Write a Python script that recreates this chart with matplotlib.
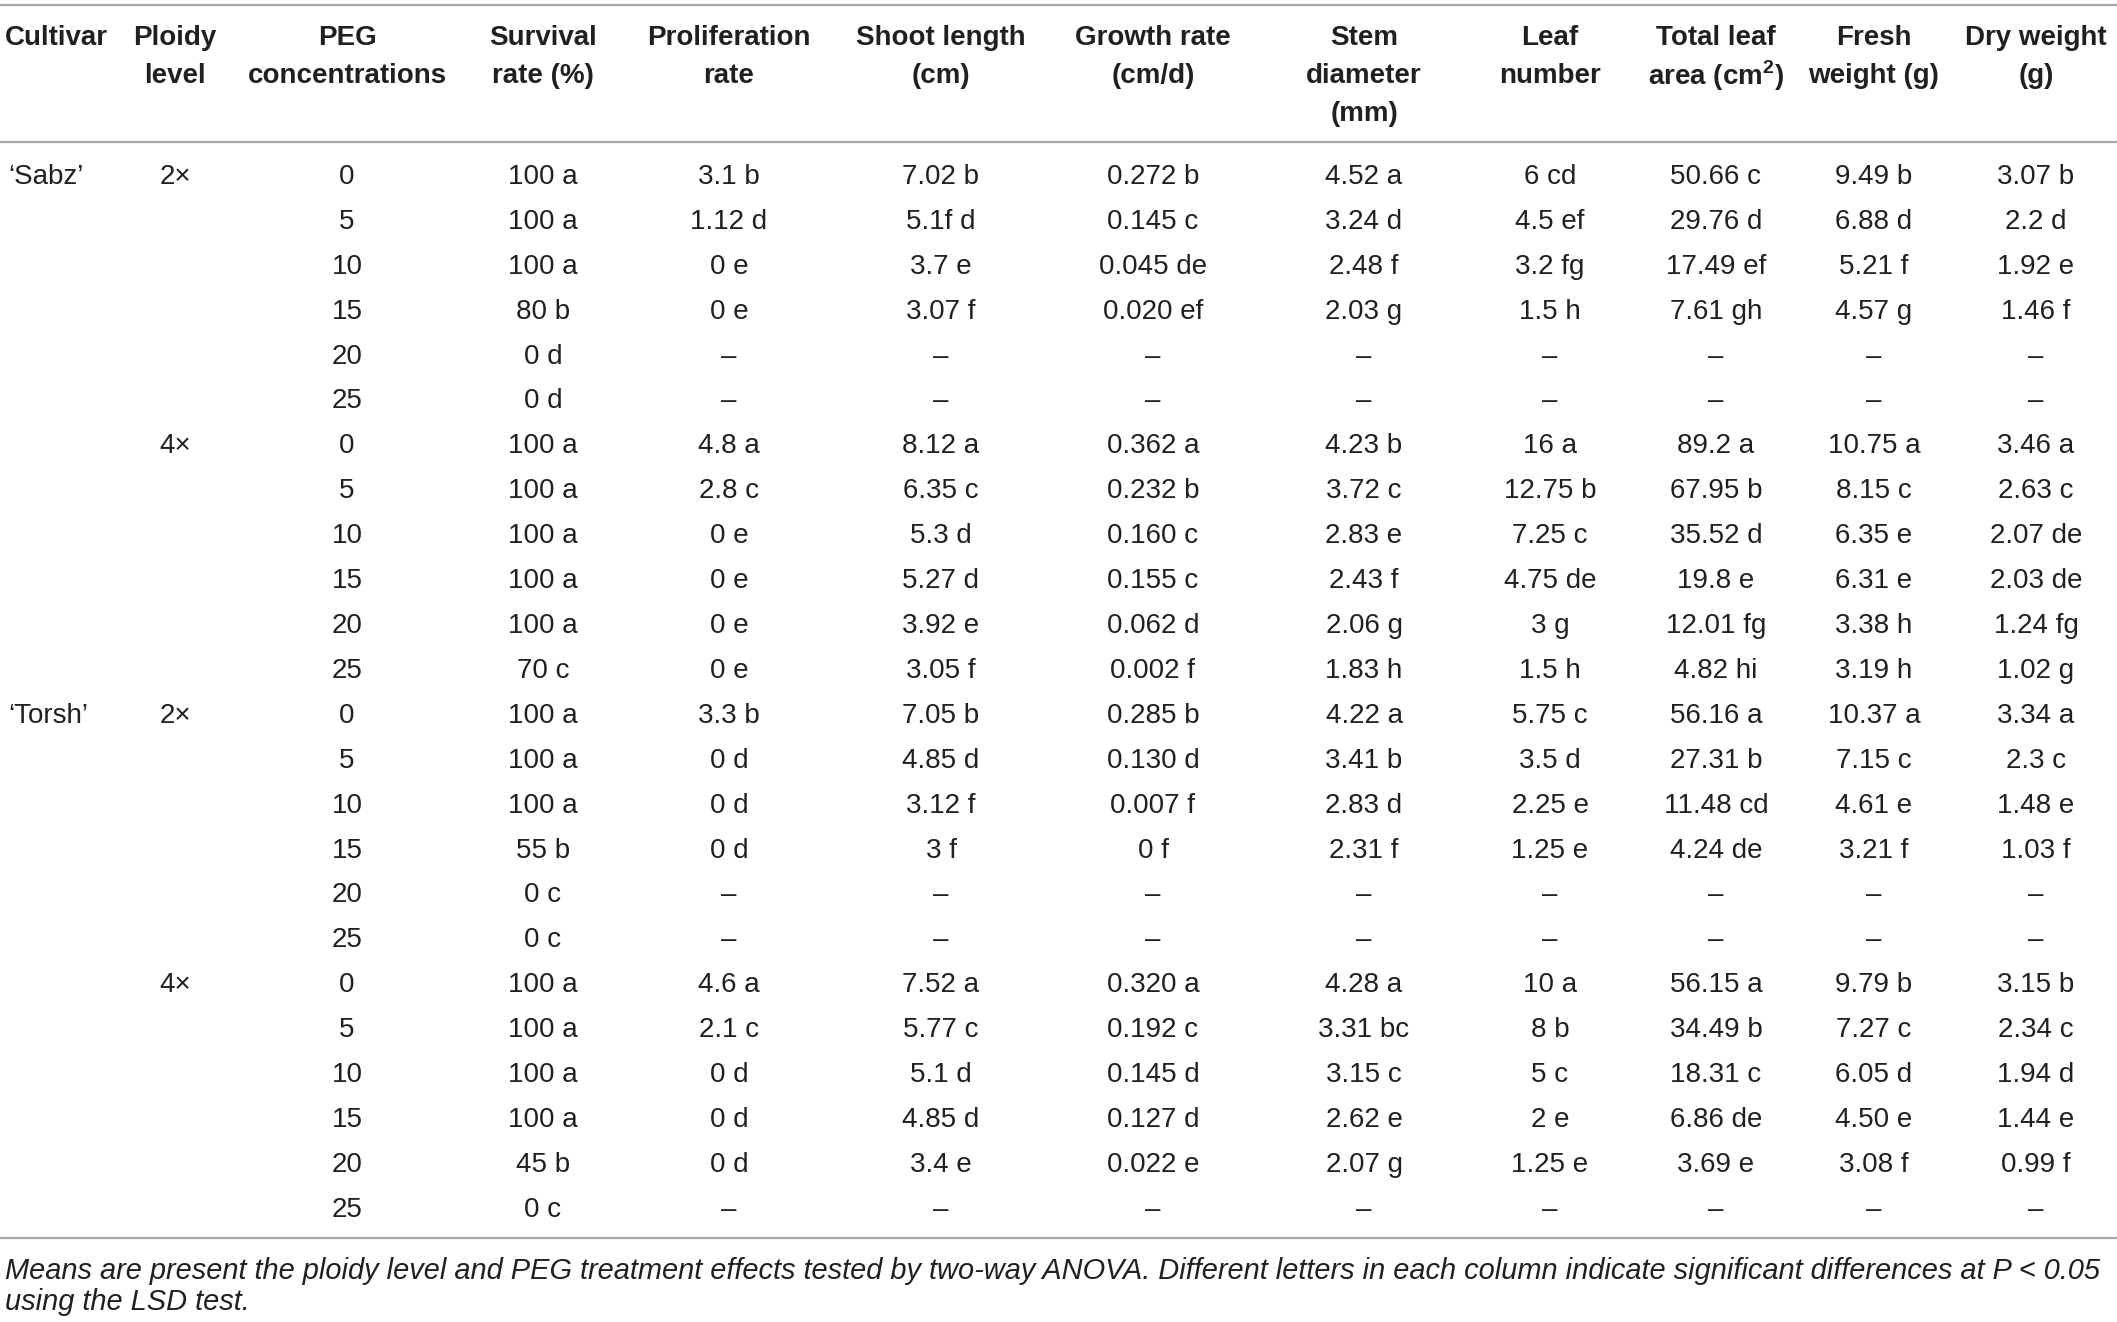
import matplotlib.pyplot as plt

plt.rcParams['font.family'] = ['Liberation Sans', 'DejaVu Sans']
plt.rcParams['mathtext.fontset'] = 'custom'
plt.rcParams['mathtext.rm'] = 'Liberation Sans'
plt.rcParams['mathtext.bf'] = 'Liberation Sans:bold'

# Table content
headers = ["Cultivar", "Ploidy\nlevel", "PEG\nconcentrations", "Survival\nrate (%)",
           "Proliferation\nrate", "Shoot length\n(cm)", "Growth rate\n(cm/d)",
           "Stem\ndiameter\n(mm)", "Leaf\nnumber", "Total leaf\narea (cm$^{\\mathbf{2}}$)",
           "Fresh\nweight (g)", "Dry weight\n(g)"]

cultivar = ["\u2018Sabz\u2019"] + [""] * 11 + ["\u2018Torsh\u2019"] + [""] * 11
ploidy = (["2\u00d7"] + [""] * 5 + ["4\u00d7"] + [""] * 5) * 2
peg = ["0", "5", "10", "15", "20", "25"] * 4

D = "\u2013"
survival = ["100 a", "100 a", "100 a", "80 b", "0 d", "0 d",
            "100 a", "100 a", "100 a", "100 a", "100 a", "70 c",
            "100 a", "100 a", "100 a", "55 b", "0 c", "0 c",
            "100 a", "100 a", "100 a", "100 a", "45 b", "0 c"]
proliferation = ["3.1 b", "1.12 d", "0 e", "0 e", D, D,
                 "4.8 a", "2.8 c", "0 e", "0 e", "0 e", "0 e",
                 "3.3 b", "0 d", "0 d", "0 d", D, D,
                 "4.6 a", "2.1 c", "0 d", "0 d", "0 d", D]
shoot = ["7.02 b", "5.1f d", "3.7 e", "3.07 f", D, D,
         "8.12 a", "6.35 c", "5.3 d", "5.27 d", "3.92 e", "3.05 f",
         "7.05 b", "4.85 d", "3.12 f", "3 f", D, D,
         "7.52 a", "5.77 c", "5.1 d", "4.85 d", "3.4 e", D]
growth = ["0.272 b", "0.145 c", "0.045 de", "0.020 ef", D, D,
          "0.362 a", "0.232 b", "0.160 c", "0.155 c", "0.062 d", "0.002 f",
          "0.285 b", "0.130 d", "0.007 f", "0 f", D, D,
          "0.320 a", "0.192 c", "0.145 d", "0.127 d", "0.022 e", D]
stem = ["4.52 a", "3.24 d", "2.48 f", "2.03 g", D, D,
        "4.23 b", "3.72 c", "2.83 e", "2.43 f", "2.06 g", "1.83 h",
        "4.22 a", "3.41 b", "2.83 d", "2.31 f", D, D,
        "4.28 a", "3.31 bc", "3.15 c", "2.62 e", "2.07 g", D]
leaf = ["6 cd", "4.5 ef", "3.2 fg", "1.5 h", D, D,
        "16 a", "12.75 b", "7.25 c", "4.75 de", "3 g", "1.5 h",
        "5.75 c", "3.5 d", "2.25 e", "1.25 e", D, D,
        "10 a", "8 b", "5 c", "2 e", "1.25 e", D]
area = ["50.66 c", "29.76 d", "17.49 ef", "7.61 gh", D, D,
        "89.2 a", "67.95 b", "35.52 d", "19.8 e", "12.01 fg", "4.82 hi",
        "56.16 a", "27.31 b", "11.48 cd", "4.24 de", D, D,
        "56.15 a", "34.49 b", "18.31 c", "6.86 de", "3.69 e", D]
fresh = ["9.49 b", "6.88 d", "5.21 f", "4.57 g", D, D,
         "10.75 a", "8.15 c", "6.35 e", "6.31 e", "3.38 h", "3.19 h",
         "10.37 a", "7.15 c", "4.61 e", "3.21 f", D, D,
         "9.79 b", "7.27 c", "6.05 d", "4.50 e", "3.08 f", D]
dry = ["3.07 b", "2.2 d", "1.92 e", "1.46 f", D, D,
       "3.46 a", "2.63 c", "2.07 de", "2.03 de", "1.24 fg", "1.02 g",
       "3.34 a", "2.3 c", "1.48 e", "1.03 f", D, D,
       "3.15 b", "2.34 c", "1.94 d", "1.44 e", "0.99 f", D]

footnote = ["Means are present the ploidy level and PEG treatment effects tested by two-way ANOVA. "
            "Different letters in each column indicate significant differences at P < 0.05",
            "using the LSD test."]

columns = [cultivar, ploidy, peg, survival, proliferation, shoot, growth,
           stem, leaf, area, fresh, dry]

# layout (pixel coordinates)
W, H = 2117, 1322
col_x = [5, 175, 347, 543, 729, 941, 1153, 1364, 1550, 1716, 1874, 2036]
row_y0, row_dy = 177, 44.9
txt = '#231f20'
rule = '#a7a9ac'
fs = 20

fig = plt.figure(figsize=(W / 100, H / 100), dpi=100)
ax = fig.add_axes([0, 0, 1, 1])
ax.set_xlim(0, W)
ax.set_ylim(H, 0)
ax.axis('off')

for y in [5, 142, 1238]:
    ax.plot([0, W], [y, y], color=rule, lw=1.6, solid_capstyle='butt')

for j, h in enumerate(headers):
    for k, line in enumerate(h.split("\n")):
        ha = 'left' if j == 0 else 'center'
        ax.text(col_x[j], 38 + k * 38, line, ha=ha, va='center',
                fontsize=fs, fontweight='bold', color=txt)

for j, col in enumerate(columns):
    ha = 'left' if j == 0 else 'center'
    for i, val in enumerate(col):
        if val:
            ax.text(col_x[j] + (3 if j == 0 else 0), row_y0 + i * row_dy, val,
                    ha=ha, va='center', fontsize=fs, color=txt)

for k, line in enumerate(footnote):
    ax.text(5, 1271 + k * 31, line, ha='left', va='center', fontsize=20.9,
            style='italic', color=txt)

fig.savefig('out.png', dpi=100)
